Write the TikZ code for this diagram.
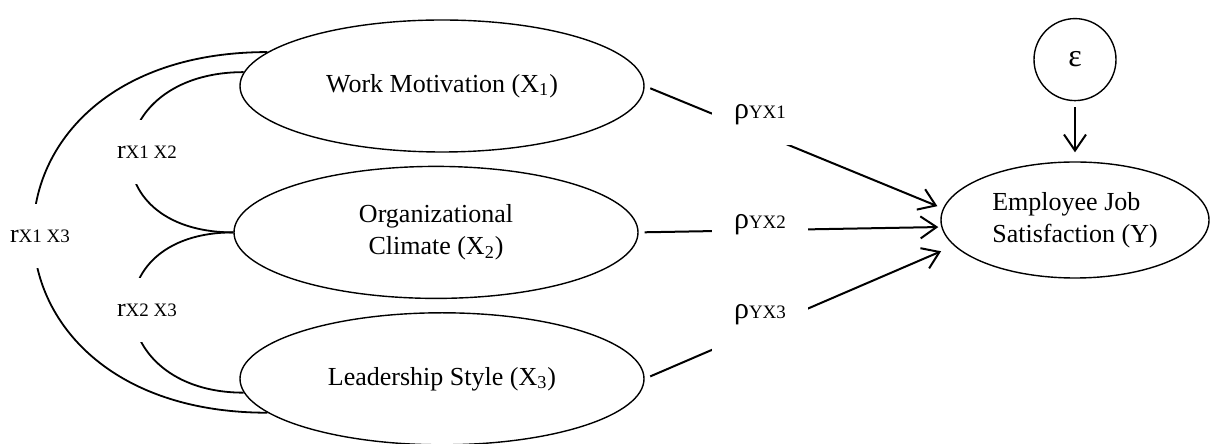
\documentclass[tikz,border=0pt]{standalone}
\usepackage{fontspec}
\setmainfont{Liberation Serif}
\usetikzlibrary{shapes,positioning,calc,arrows.meta}
\newcommand{\rhoLab}[1]{{\fontsize{15}{16}\selectfont ρ}{\fontsize{9.5}{11}\selectfont #1}}
\newcommand{\corrLab}[1]{{\fontsize{13}{15}\selectfont r}{\fontsize{9.5}{11}\selectfont #1}}
\tikzset{
  varNode/.style={
    ellipse,
    draw=black,
    line width=0.7pt,
    minimum width=202pt,
    minimum height=66pt,
    align=center,
    font=\fontsize{13}{16}\selectfont
 },
  outcomeNode/.style={
    ellipse,
    draw=black,
    line width=0.7pt,
    minimum width=134pt,
    minimum height=58pt,
    align=left,
    font=\fontsize{13}{16}\selectfont
 },
  errorNode/.style={
    circle,
    draw=black,
    line width=0.7pt,
    minimum size=41pt,
    font=\fontsize{16}{18}\selectfont
 },
  coefLabel/.style={
    fill=white,
    inner xsep=11pt,
    inner ysep=10pt
 },
  corrLabel/.style={
    fill=white,
    inner xsep=2pt,
    minimum height=32pt
 },
  pathLine/.style={
    line width=0.9pt,
    color=black
 },
  arrowLine/.style={
    -{Straight Barb[length=8pt,width=11pt]},
    line width=1pt,
    color=black
 }
}

\begin{document}
\begin{tikzpicture}[x=0.5pt, y=0.5pt]
  \useasboundingbox (0,0) rectangle (1210,444);

  % predictors on the left
  \node[varNode] (x1) at (442,358) {Work Motivation (X\textsubscript{1})};
  \node[varNode, below=6.5pt of x1, xshift=-3pt] (x2) {Organizational\\Climate (X\textsubscript{2})};
  \node[varNode, below=6.5pt of x2, xshift=3pt] (x3) {Leadership Style (X\textsubscript{3})};

  % outcome and error term on the right
  \node[outcomeNode] (y) at (1075,224) {Employee Job\\Satisfaction (Y)};
  \node[errorNode, above=30pt of y] (eps) {ε};
  \draw[arrowLine, shorten <=3pt, shorten >=4.5pt] (eps) -- (y);

  % paths into Y
  \draw[arrowLine, shorten <=3pt, shorten >=3pt] (x1.east) -- (y.175);
  \draw[arrowLine, shorten <=3pt, shorten >=1.5pt] (x2.east) -- (y.183);
  \draw[arrowLine, shorten <=3pt, shorten >=7pt] (x3.east) -- (y.192);
  \node[coefLabel] (p1) at (760,329) {\rhoLab{YX1}};
  \node[coefLabel] (p2) at (760,219) {\rhoLab{YX2}};
  \node[coefLabel, inner ysep=13pt] (p3) at (760,129) {\rhoLab{YX3}};

  % correlations
  \draw[pathLine] (x1.176) to[out=180, in=180, looseness=2.3] (x2.west);
  \draw[pathLine] (x2.west) to[out=180, in=180, looseness=2.25] (x3.184);
  \draw[pathLine] (x1.169) to[out=180, in=180, looseness=2.22] (x3.191);
  \node[corrLabel] (r12) at (147,292) {\corrLab{X1 X2}};
  \node[corrLabel] (r23) at (147,134) {\corrLab{X2 X3}};
  \node[corrLabel] (r13) at (40,208) {\corrLab{X1 X3}};

\end{tikzpicture}
\end{document}
